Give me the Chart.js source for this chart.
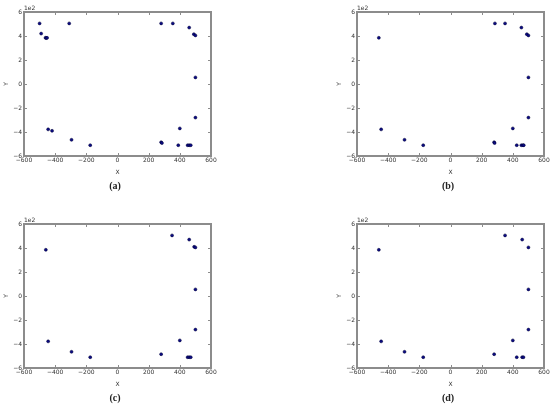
<!DOCTYPE html>
<html>
<head>
<meta charset="utf-8">
<script src="https://cdn.jsdelivr.net/npm/chart.js@4/dist/chart.umd.min.js"></script>
<style>
  html, body { margin: 0; padding: 0; background: #fff; }
  body { width: 550px; height: 406px; position: relative; overflow: hidden; }
  canvas { position: absolute; }
  .cap { position: absolute; font: bold 10px "Liberation Serif", serif; color: #222; transform: translate(-50%, -50%); }
</style>
</head>
<body>
<canvas id="pa" width="220" height="180" style="left:0;top:0"></canvas>
<canvas id="pb" width="220" height="180" style="left:333px;top:0"></canvas>
<canvas id="pc" width="220" height="180" style="left:0;top:212px"></canvas>
<canvas id="pd" width="220" height="180" style="left:333px;top:212px"></canvas>
<div class="cap" style="left:115px;top:185px">(a)</div>
<div class="cap" style="left:448px;top:185px">(b)</div>
<div class="cap" style="left:115px;top:397px">(c)</div>
<div class="cap" style="left:448px;top:397px">(d)</div>
<script>
// axis range shared by all panels
const axisMin = -600;
const axisMax = 600;
const axisStep = 200;

// (a)
const aX = [-500, -490, -462, -457, -452, -310, -445, -420, -295, -175, 280, 355, 460, 490, 500, 500, 500, 400, 280, 285, 390, 450, 460, 470];
const aY = [505, 420, 385, 383, 385, 505, -378, -390, -465, -510, 505, 505, 470, 415, 405, 55, -280, -370, -485, -492, -510, -510, -510, -510];
// (b)
const bX = [-460, -445, -295, -175, 285, 350, 455, 490, 500, 500, 500, 400, 280, 283, 425, 455, 465, 470];
const bY = [385, -378, -465, -510, 505, 505, 470, 415, 405, 55, -280, -370, -485, -492, -510, -510, -510, -510];
// (c)
const cX = [-460, -445, -295, -175, 350, 460, 492, 500, 500, 500, 400, 280, 450, 460, 470];
const cY = [385, -378, -465, -510, 505, 470, 410, 405, 55, -280, -370, -485, -510, -510, -510];
// (d)
const dX = [-460, -445, -295, -175, 350, 460, 500, 500, 500, 400, 280, 425, 460, 468];
const dY = [385, -378, -465, -510, 505, 470, 405, 55, -280, -370, -485, -510, -510, -510];

const FONT = { family: '"DejaVu Sans", sans-serif', size: 6 };
const TEXT = '#333';
const FRAME = '#8c8c8c';

const minus = v => String(v).replace('-', '\u2212');

// box with inward ticks on all four sides, plus the 1e2 offset text
const framePlugin = {
  id: 'frame',
  beforeDatasetsDraw(chart) {
    const ctx = chart.ctx;
    const a = chart.chartArea;
    const sx = chart.scales.x, sy = chart.scales.y;
    const L = Math.round(a.left), R = Math.round(a.right);
    const T = Math.round(a.top), B = Math.round(a.bottom);
    ctx.save();
    ctx.fillStyle = FRAME;
    for (let v = axisMin; v <= axisMax; v += axisStep) {
      const x = Math.round(sx.getPixelForValue(v));
      const y = Math.round(sy.getPixelForValue(v));
      ctx.fillRect(x, B - 3, 1, 3);
      ctx.fillRect(x, T, 1, 3);
      ctx.fillRect(L, y, 3, 1);
      ctx.fillRect(R - 3, y, 3, 1);
    }
    ctx.fillRect(L - 1, T - 1, R - L + 2, 2);
    ctx.fillRect(L - 1, B - 1, R - L + 2, 2);
    ctx.fillRect(L - 1, T - 1, 2, B - T + 2);
    ctx.fillRect(R - 1, T - 1, 2, B - T + 2);
    ctx.fillStyle = TEXT;
    ctx.font = '6px "DejaVu Sans", sans-serif';
    ctx.textAlign = 'left';
    ctx.textBaseline = 'bottom';
    ctx.fillText('1e2', L, T - 1);
    ctx.restore();
  }
};

function makeChart(id, xs, ys) {
  const points = xs.map((x, i) => ({ x, y: ys[i] }));
  return new Chart(document.getElementById(id), {
    type: 'scatter',
    data: {
      datasets: [{
        data: points,
        backgroundColor: '#0b0b85',
        borderColor: '#000033',
        borderWidth: 0.5,
        pointRadius: 1.5,
      }],
    },
    options: {
      responsive: false,
      animation: false,
      layout: { padding: { top: 12, right: 9, left: 0, bottom: 0 } },
      plugins: { legend: { display: false }, tooltip: { enabled: false } },
      scales: {
        x: {
          min: axisMin, max: axisMax,
          grid: { display: false, drawTicks: false },
          border: { display: false },
          ticks: { stepSize: axisStep, autoSkip: false, maxRotation: 0, padding: 1, color: TEXT, font: FONT, callback: v => minus(v) },
          title: { display: true, text: 'X', color: TEXT, font: FONT, padding: { top: 0, bottom: 4 } },
          afterFit: s => { s.height = 24; },
        },
        y: {
          min: axisMin, max: axisMax,
          grid: { display: false, drawTicks: false },
          border: { display: false },
          ticks: { stepSize: axisStep, autoSkip: false, padding: 2, color: TEXT, font: FONT, callback: v => minus(v / 100) },
          title: { display: true, text: 'Y', color: TEXT, font: FONT, padding: { top: 3, bottom: 0 } },
          afterFit: s => { s.width = 24; },
        },
      },
    },
    plugins: [framePlugin],
  });
}

makeChart('pa', aX, aY);
makeChart('pb', bX, bY);
makeChart('pc', cX, cY);
makeChart('pd', dX, dY);
</script>
</body>
</html>
